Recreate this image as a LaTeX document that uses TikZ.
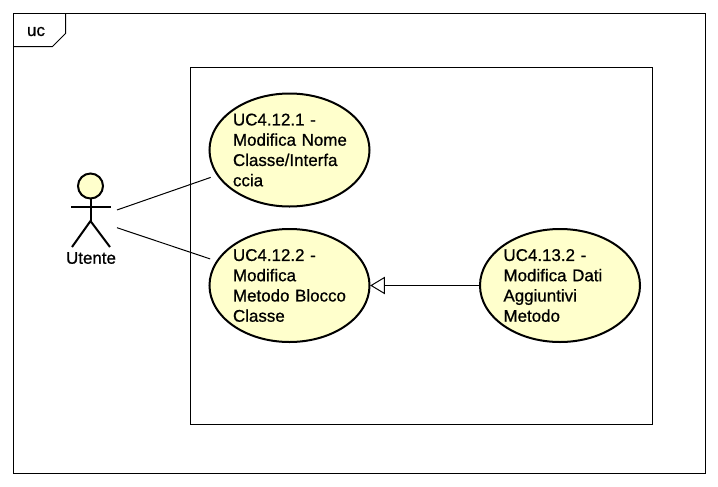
\documentclass[tikz,border=0pt]{standalone}
\usepackage{fontspec}
\setmainfont{Liberation Sans}[FakeBold=0.8]
\usetikzlibrary{shapes.geometric,arrows.meta}
\definecolor{ucfill}{HTML}{FFFFCC}
\newlength{\px}
\setlength{\px}{0.75pt}
\hbadness=10000
\hfuzz=20pt
\tikzset{
  x=0.75pt, y=-0.75pt,
  frameline/.style={draw=black, line width=0.75pt},
  usecase/.style={ellipse, draw=black, fill=ucfill, line width=1.5pt,
    minimum width=160*\px, minimum height=113*\px, inner sep=0pt, outer sep=0pt,
    text width=113*\px, align=left, font=\fontsize{12.7}{15.2}\selectfont},
  actorline/.style={draw=black, line width=1.5pt},
  assoc/.style={draw=black, line width=0.75pt, shorten >=5.6pt},
  gen/.style={draw=black, line width=0.75pt, -{Triangle[open, fill=white, length=11pt, width=13pt, line width=0.75pt]}, shorten >=0.5pt},
  lbl/.style={inner sep=0pt, font=\fontsize{12.7}{15}\selectfont},
  actorbox/.style={inner sep=0pt, outer sep=0pt, minimum width=52*\px, minimum height=90*\px}
}
\begin{document}
\begin{tikzpicture}
\useasboundingbox (0,0) rectangle (718,486);
\fill[white] (0,0) rectangle (718,486);
% frame
\draw[frameline] (13.5,13.5) rectangle (705.5,473.5);
\draw[frameline] (13.5,46.5) -- (52.5,46.5) -- (65.5,33.5) -- (65.5,13.5);
\node[lbl] (ucname) at (36,31.5) {uc};
% system boundary
\draw[frameline] (190.5,67.5) rectangle (652.5,424.5);
% use cases
\node[usecase] (uca) at (289.5,150) {UC4.12.1 -\\Modifica~Nome\\Classe/Interfa\\ccia};
\node[usecase] (ucb) at (289.5,285.5) {UC4.12.2 -\\Modifica\\Metodo~Blocco\\Classe};
\node[usecase] (ucc) at (560,285.5) {UC4.13.2 -\\Modifica~Dati\\Aggiuntivi\\Metodo};
% actor
\node[actorbox] (actor) at (91,219) {};
\draw[actorline, fill=ucfill] (90.5,186) circle[radius=12.5];
\draw[actorline] (90.5,198.5) -- (90.5,221);
\draw[actorline] (71,206.5) -- (110.5,206.5);
\draw[actorline] (72,247) -- (90.5,221) -- (110,247);
\node[lbl] (actorname) at (91,258) {Utente};
% connectors
\draw[assoc] (actor) -- (uca);
\draw[assoc] (actor) -- (ucb);
\draw[gen] (ucc) -- (ucb);
\end{tikzpicture}
\end{document}
